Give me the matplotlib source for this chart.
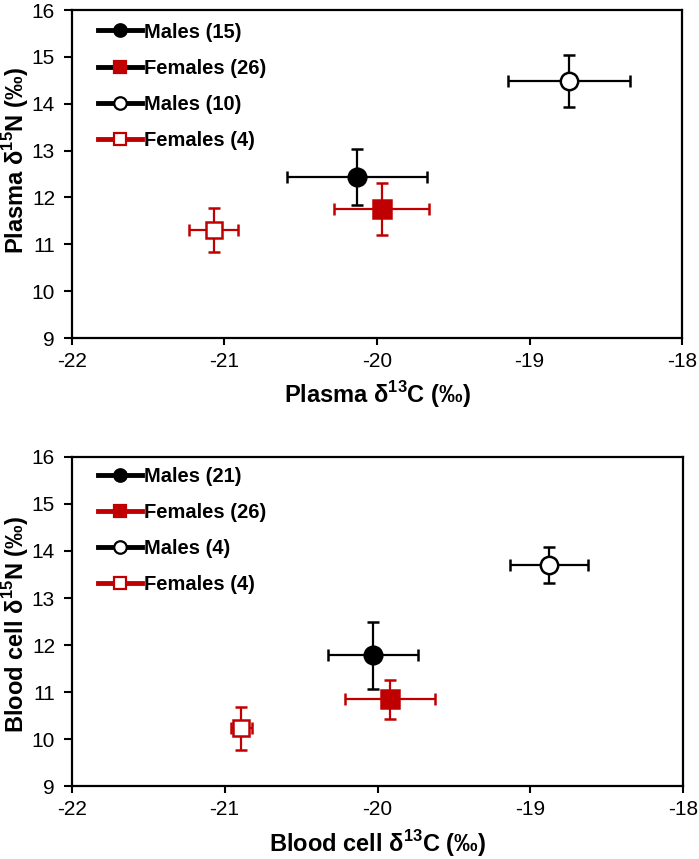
import matplotlib
matplotlib.use("Agg")
import matplotlib.pyplot as plt
from matplotlib.lines import Line2D

plt.rcParams['font.family'] = ['Liberation Sans', 'DejaVu Sans']
plt.rcParams['mathtext.fontset'] = 'custom'
plt.rcParams['mathtext.rm'] = 'Liberation Sans'
plt.rcParams['mathtext.bf'] = 'Liberation Sans:bold'

RED = '#c00000'

# Plasma panel
plasma_labels = ['Males (15)', 'Females (26)', 'Males (10)', 'Females (4)']
plasma_c = [-20.13, -19.97, -18.74, -21.07]
plasma_c_err = [0.46, 0.31, 0.40, 0.16]
plasma_n = [12.43, 11.75, 14.49, 11.31]
plasma_n_err = [0.60, 0.55, 0.55, 0.47]

# Blood cell panel
cell_labels = ['Males (21)', 'Females (26)', 'Males (4)', 'Females (4)']
cell_c = [-20.03, -19.92, -18.88, -20.89]
cell_c_err = [0.295, 0.295, 0.255, 0.07]
cell_n = [11.78, 10.85, 13.70, 10.23]
cell_n_err = [0.72, 0.41, 0.39, 0.46]

x_ticks = [-22, -21, -20, -19, -18]
y_ticks = [9, 10, 11, 12, 13, 14, 15, 16]

markers = ['o', 's', 'o', 's']
face = ['black', RED, 'white', 'white']
edge = ['black', RED, 'black', RED]
ecol = ['black', RED, 'black', RED]
msizes = [12.7, 13, 12.5, 12]

fig = plt.figure(figsize=(6.99, 8.59), dpi=100)
ax1 = fig.add_axes([0.1026, 0.6065, 0.8735, 0.3818])
ax2 = fig.add_axes([0.1026, 0.0845, 0.875, 0.3838])


def draw(ax, cx, cxe, ny, nye, labels, legend_line_cols, xlabel, ylabel,
         ylab_y, leg_y):
    for i in range(len(cx)):
        ax.errorbar(cx[i], ny[i], xerr=cxe[i], yerr=nye[i], fmt=markers[i],
                    mfc=face[i], mec=edge[i], ms=msizes[i], mew=1.8,
                    ecolor=ecol[i], elinewidth=1.6, capsize=4, capthick=1.6,
                    zorder=3)
    ax.set_xlim(-22, -18)
    ax.set_ylim(9, 16)
    ax.set_xticks(x_ticks)
    ax.set_yticks(y_ticks)
    ax.set_xticklabels([str(t) for t in x_ticks])
    ax.tick_params(axis='x', direction='out', length=5, width=1.5,
                   labelsize=15, pad=5)
    ax.tick_params(axis='y', direction='out', length=6, width=1.5,
                   labelsize=15, pad=6)
    for s in ax.spines.values():
        s.set_linewidth(1.6)
    ax.set_xlabel(xlabel, fontsize=17, fontweight='bold', labelpad=6)
    ax.set_ylabel(ylabel, fontsize=17, fontweight='bold')
    ax.yaxis.set_label_coords(-0.066, ylab_y)
    handles = []
    for i in range(len(labels)):
        handles.append(Line2D([0], [0], color=legend_line_cols[i], lw=3.5,
                              marker=markers[i], mfc=face[i], mec=edge[i],
                              ms=9, mew=1.6))
    ax.legend(handles, labels, loc='upper left', frameon=False,
              prop={'weight': 'bold', 'size': 14.5}, handlelength=2.2,
              handletextpad=0.1, labelspacing=0.85, borderpad=0,
              borderaxespad=0, bbox_to_anchor=(0.043, leg_y))


draw(ax1, plasma_c, plasma_c_err, plasma_n, plasma_n_err, plasma_labels,
     ['black', 'black', 'black', RED],
     r'Plasma δ$^{\mathbf{13}}$C (‰)', r'Plasma δ$^{\mathbf{15}}$N (‰)',
     0.54, 0.962)
draw(ax2, cell_c, cell_c_err, cell_n, cell_n_err, cell_labels,
     ['black', RED, 'black', RED],
     r'Blood cell δ$^{\mathbf{13}}$C (‰)', r'Blood cell δ$^{\mathbf{15}}$N (‰)',
     0.49, 0.969)

fig.savefig('out.png', dpi=100)
